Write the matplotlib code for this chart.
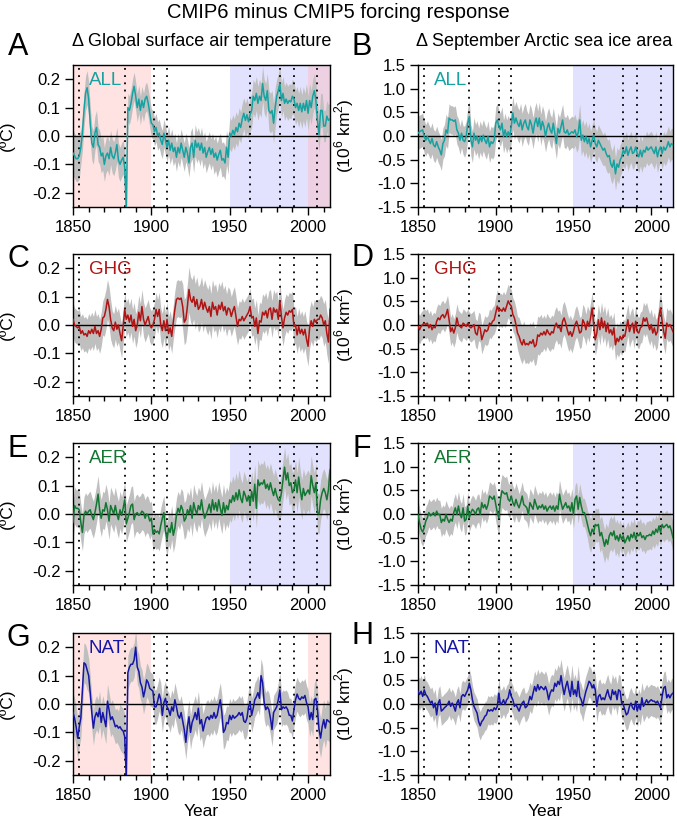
import numpy as np
import matplotlib.pyplot as plt

plt.rcParams['font.family'] = ['Liberation Sans', 'DejaVu Sans']
plt.rcParams['mathtext.fontset'] = 'custom'
plt.rcParams['mathtext.rm'] = 'Liberation Sans'
plt.rcParams['axes.unicode_minus'] = False

years = np.arange(1850, 2015)
hw_years = np.arange(1850, 2015, 5)   # band half-width read in 5-year blocks

# annual ensemble-mean differences (CMIP6 - CMIP5)
tas_all = [
    -0.06, -0.07, -0.08, -0.08, -0.07, -0.04, 0.01, 0.09, 0.15, 0.17,
    0.13, 0.045, -0.025, -0.04, 0.01, 0.03, -0.03, -0.04, -0.07, -0.06,
    -0.10, -0.07, -0.06, -0.08, -0.04, -0.07, -0.08, -0.06, -0.03, -0.085,
    -0.10, -0.085, -0.075, -0.11, -0.26, 0.10, 0.09, 0.115, 0.15, 0.175,
    0.14, 0.10, 0.13, 0.09, 0.125, 0.10, 0.13, 0.14, 0.115, 0.08,
    0.045, 0.04, 0.015, 0.03, 0.0, 0.01, -0.015, -0.03, 0.01, -0.015,
    -0.04, -0.015, -0.05, -0.025, -0.055, -0.04, -0.075, -0.04, -0.06, -0.025,
    -0.05, -0.075, -0.04, -0.06, -0.095, -0.04, -0.025, -0.075, -0.015, -0.04,
    -0.025, -0.05, -0.025, -0.06, -0.04, -0.075, -0.055, -0.04, -0.065, -0.045,
    -0.075, -0.06, -0.085, -0.065, -0.05, -0.085, -0.08, -0.095, -0.04, -0.075,
    0.01, 0.0, 0.02, 0.005, 0.03, 0.015, 0.045, 0.03, 0.06, 0.08,
    0.055, 0.075, 0.05, 0.075, 0.09, 0.14, 0.125, 0.15, 0.115, 0.14,
    0.125, 0.185, 0.14, 0.125, 0.16, 0.09, 0.08, 0.09, 0.045, 0.10,
    0.14, 0.16, 0.185, 0.125, 0.15, 0.115, 0.13, 0.115, 0.125, 0.12,
    0.14, 0.13, 0.10, 0.115, 0.09, 0.115, 0.085, 0.115, 0.09, 0.125,
    0.08, 0.125, 0.10, 0.14, 0.16, 0.125, 0.055, 0.005, 0.09, 0.09,
    0.035, 0.035, 0.07, 0.055, 0.06]
sia_all = [
    0.06, 0.09, 0.11, 0.13, -0.01, -0.09, -0.01, -0.09, -0.16, -0.05,
    -0.19, -0.23, -0.12, -0.23, -0.30, -0.40, -0.16, -0.09, 0.13, 0.06,
    0.38, 0.34, 0.34, 0.31, 0.34, 0.13, 0.06, -0.09, 0.06, -0.09,
    -0.12, -0.01, 0.27, 0.41, -0.09, -0.23, 0.06, -0.09, -0.01, -0.16,
    -0.01, -0.12, 0.02, -0.09, -0.16, -0.01, -0.23, -0.12, -0.16, -0.09,
    0.27, 0.34, 0.20, 0.13, 0.27, -0.01, 0.13, -0.01, 0.09, -0.01,
    0.20, 0.49, 0.27, 0.38, 0.27, 0.20, 0.34, 0.13, 0.27, 0.34,
    0.20, 0.13, 0.34, 0.24, 0.06, 0.27, 0.38, 0.20, 0.38, 0.13,
    0.31, 0.20, -0.01, 0.16, 0.27, 0.13, 0.06, 0.27, 0.06, -0.16,
    0.16, 0.06, 0.20, 0.34, 0.09, 0.06, 0.13, 0.02, 0.06, 0.09,
    0.06, 0.13, -0.01, 0.06, 0.34, -0.09, 0.02, -0.12, -0.01, -0.16,
    -0.05, -0.23, -0.09, 0.02, -0.16, -0.23, -0.09, -0.16, -0.23, -0.30,
    -0.26, -0.37, -0.44, -0.41, -0.59, -0.66, -0.51, -0.80, -0.59, -0.66,
    -0.51, -0.44, -0.30, -0.37, -0.23, -0.41, -0.30, -0.23, -0.37, -0.34,
    -0.23, -0.37, -0.44, -0.30, -0.44, -0.30, -0.34, -0.23, -0.30, -0.26,
    -0.23, -0.30, -0.37, -0.23, -0.44, -0.30, -0.23, -0.37, -0.23, -0.30,
    -0.23, -0.12, -0.23, -0.16, -0.19]
tas_ghg = [
    0.02, 0.0, -0.005, -0.01, -0.005, -0.03, -0.02, -0.035, -0.03, -0.04,
    -0.02, -0.03, -0.015, -0.03, -0.005, -0.03, -0.02, -0.04, -0.015, 0.025,
    0.03, 0.055, 0.09, 0.065, 0.02, -0.01, -0.02, 0.01, -0.015, 0.0,
    -0.03, -0.055, -0.005, 0.055, 0.02, 0.035, 0.01, 0.035, -0.005, 0.02,
    -0.02, 0.0, 0.045, 0.015, 0.065, 0.02, 0.0, 0.015, 0.03, 0.0,
    -0.01, 0.0, 0.02, 0.055, 0.03, 0.055, 0.0, -0.02, 0.015, -0.02,
    0.02, -0.03, -0.01, -0.04, 0.01, 0.055, 0.09, 0.095, 0.09, 0.095,
    0.065, 0.01, 0.02, 0.065, 0.125, 0.09, 0.08, 0.10, 0.065, 0.09,
    0.055, 0.065, 0.09, 0.055, 0.08, 0.06, 0.045, 0.065, 0.03, 0.08,
    0.055, 0.065, 0.035, 0.07, 0.055, 0.08, 0.05, 0.065, 0.035, 0.06,
    0.055, 0.03, 0.05, 0.065, 0.03, -0.005, 0.02, 0.015, 0.03, 0.015,
    0.025, 0.035, 0.045, 0.065, 0.025, 0.03, -0.005, 0.025, -0.03, 0.015,
    0.01, 0.045, 0.035, 0.05, 0.025, 0.055, 0.06, 0.02, 0.06, 0.045,
    0.055, 0.02, 0.085, 0.03, -0.01, 0.025, 0.045, 0.035, 0.05, 0.045,
    0.055, -0.005, 0.0, -0.035, -0.005, -0.03, -0.015, -0.035, -0.015, -0.05,
    -0.075, -0.01, 0.015, -0.005, 0.02, 0.01, 0.02, 0.02, 0.035, 0.025,
    0.0, 0.015, -0.03, -0.06, 0.055]
sia_ghg = [
    -0.03, -0.10, -0.03, 0.01, 0.04, 0.01, 0.04, -0.06, 0.01, -0.10,
    -0.03, -0.06, 0.08, 0.15, 0.11, 0.19, 0.22, 0.15, 0.22, 0.33,
    0.11, -0.14, -0.06, -0.17, -0.06, 0.15, 0.01, -0.03, -0.06, 0.04,
    0.01, -0.03, 0.04, -0.03, -0.06, -0.03, 0.01, -0.17, -0.21, -0.03,
    -0.06, -0.31, -0.21, -0.10, -0.14, -0.10, 0.04, 0.01, 0.08, 0.11,
    0.26, 0.40, 0.29, 0.33, 0.29, 0.36, 0.29, 0.40, 0.51, 0.44,
    0.40, 0.22, 0.15, 0.01, -0.17, -0.24, -0.35, -0.42, -0.31, -0.42,
    -0.39, -0.42, -0.35, -0.39, -0.31, -0.46, -0.42, -0.21, -0.24, -0.17,
    -0.21, -0.14, -0.21, -0.10, -0.17, -0.21, -0.14, -0.17, -0.03, 0.04,
    -0.06, -0.03, -0.14, 0.08, 0.15, 0.04, -0.10, -0.21, -0.14, -0.24,
    -0.14, 0.01, 0.08, -0.03, -0.17, -0.14, 0.11, 0.04, -0.10, 0.08,
    -0.03, 0.15, 0.36, 0.01, -0.31, -0.17, 0.11, -0.10, 0.15, -0.06,
    0.08, -0.14, 0.04, -0.17, -0.10, -0.21, -0.06, -0.42, -0.28, -0.35,
    -0.24, -0.31, -0.21, -0.24, -0.06, 0.11, -0.14, -0.03, 0.04, -0.17,
    0.08, -0.14, -0.17, -0.06, -0.03, 0.15, 0.08, 0.15, 0.01, -0.10,
    0.01, -0.17, -0.06, -0.21, -0.14, 0.19, 0.36, 0.08, -0.14, -0.28,
    0.04, -0.03, 0.01, -0.06, -0.14]
tas_aer = [
    -0.03, 0.03, 0.02, 0.02, 0.015, -0.03, -0.065, -0.005, 0.01, 0.0,
    0.01, 0.015, -0.005, -0.02, 0.005, 0.035, 0.07, 0.015, -0.015, 0.015,
    0.01, 0.04, 0.015, -0.025, 0.03, 0.015, 0.0, 0.03, 0.0, -0.02,
    0.015, -0.005, 0.02, 0.05, -0.035, -0.015, 0.005, 0.03, 0.035, -0.02,
    0.0, 0.005, -0.005, 0.0, 0.01, 0.005, -0.015, 0.0, -0.005, -0.025,
    -0.015, -0.07, -0.055, -0.065, -0.06, -0.07, -0.04, -0.015, 0.005, -0.06,
    -0.09, -0.05, -0.065, -0.03, -0.075, -0.05, -0.005, 0.02, 0.005, 0.03,
    0.015, -0.025, -0.015, 0.015, 0.0, 0.03, -0.015, 0.04, 0.015, 0.0,
    0.03, 0.015, 0.05, 0.01, -0.015, 0.0, 0.015, 0.035, 0.005, 0.05,
    0.015, 0.04, 0.01, 0.05, 0.02, -0.005, 0.04, 0.005, 0.03, 0.015,
    0.05, 0.04, 0.065, 0.045, 0.075, 0.05, 0.085, 0.055, 0.04, 0.08,
    0.065, 0.045, 0.065, 0.03, 0.08, 0.045, 0.105, 0.02, 0.12, 0.10,
    0.11, 0.105, 0.12, 0.09, 0.105, 0.085, 0.11, 0.085, 0.065, 0.09,
    0.065, 0.05, 0.045, 0.075, 0.12, 0.165, 0.12, 0.145, 0.10, 0.11,
    0.075, 0.085, 0.12, 0.075, 0.13, 0.085, 0.05, 0.09, 0.065, 0.075,
    0.085, 0.07, 0.135, 0.10, 0.075, 0.11, 0.005, 0.0, 0.05, 0.075,
    0.09, 0.075, 0.05, 0.085, 0.155]
sia_aer = [
    -0.01, -0.18, -0.32, -0.38, -0.29, -0.15, -0.08, 0.03, -0.04, -0.01,
    0.03, -0.04, 0.06, -0.01, -0.01, -0.18, -0.11, -0.15, -0.01, -0.11,
    -0.18, -0.11, -0.15, 0.03, 0.13, -0.01, 0.17, -0.01, -0.08, 0.13,
    -0.15, -0.11, 0.17, -0.08, 0.03, 0.10, 0.06, -0.01, 0.10, 0.13,
    -0.01, 0.24, 0.13, 0.20, 0.10, 0.20, 0.38, 0.35, 0.31, 0.38,
    0.20, 0.03, -0.08, 0.31, 0.49, 0.45, 0.42, 0.45, 0.31, 0.27,
    0.38, 0.24, 0.17, 0.31, 0.20, 0.13, 0.24, 0.38, 0.20, 0.17,
    0.13, -0.01, 0.24, 0.17, 0.10, 0.31, 0.20, 0.10, 0.17, 0.13,
    0.20, 0.10, 0.17, 0.06, 0.13, 0.17, 0.10, 0.17, 0.06, 0.17,
    0.10, 0.42, 0.24, 0.10, 0.17, 0.24, 0.13, 0.17, 0.06, 0.24,
    -0.01, 0.31, 0.38, 0.10, 0.35, 0.17, 0.03, 0.03, -0.08, -0.22,
    -0.36, -0.46, -0.32, -0.39, -0.22, -0.25, -0.22, -0.46, -0.39, -0.54,
    -0.68, -0.54, -0.64, -0.46, -0.39, -0.46, -0.36, -0.54, -0.46, -0.57,
    -0.43, -0.54, -0.46, -0.61, -0.54, -0.46, -0.57, -0.43, -0.50, -0.39,
    -0.54, -0.43, -0.46, -0.39, -0.50, -0.46, -0.54, -0.46, -0.46, -0.43,
    -0.46, -0.36, -0.43, -0.32, -0.39, -0.25, -0.39, -0.22, -0.29, -0.25,
    -0.22, -0.29, -0.25, -0.36, -0.50]
tas_nat = [
    -0.03, -0.05, -0.08, -0.12, -0.08, -0.05, 0.05, 0.145, 0.14, 0.12,
    0.10, 0.04, -0.03, -0.085, -0.045, -0.03, -0.045, -0.015, -0.065, -0.03,
    -0.055, -0.08, 0.01, -0.02, -0.055, -0.045, -0.06, -0.08, -0.075, -0.085,
    -0.08, -0.09, -0.095, -0.115, -0.26, 0.11, 0.13, 0.14, 0.14, 0.155,
    0.20, 0.13, 0.115, 0.075, 0.06, 0.025, 0.05, 0.085, 0.075, 0.055,
    0.05, 0.045, -0.01, -0.01, 0.01, 0.035, 0.015, -0.04, 0.005, 0.02,
    -0.01, -0.02, -0.04, -0.01, -0.025, 0.015, -0.01, -0.04, -0.05, -0.03,
    -0.06, -0.09, -0.135, -0.08, -0.045, -0.10, -0.065, -0.05, -0.03, -0.055,
    -0.015, -0.07, -0.055, -0.095, -0.07, -0.05, -0.045, -0.055, -0.04, -0.05,
    -0.03, -0.05, -0.04, -0.01, 0.015, -0.03, -0.10, -0.09, -0.065, -0.07,
    -0.04, -0.055, -0.04, -0.05, -0.045, -0.04, -0.03, -0.04, -0.03, -0.06,
    -0.065, -0.05, -0.01, 0.005, -0.04, -0.015, 0.015, 0.025, 0.04, 0.02,
    0.10, 0.075, 0.005, -0.02, -0.01, -0.02, -0.05, -0.09, -0.03, -0.02,
    -0.01, 0.015, 0.05, -0.02, -0.01, -0.015, -0.01, -0.02, -0.04, -0.04,
    -0.06, -0.02, 0.015, 0.035, 0.02, 0.015, 0.025, 0.02, 0.03, 0.005,
    -0.01, -0.055, -0.03, -0.055, 0.015, 0.02, -0.02, -0.09, -0.12, -0.08,
    -0.055, -0.085, -0.055, -0.06, -0.065]
sia_nat = [
    0.27, 0.20, 0.27, 0.16, 0.30, 0.20, 0.16, 0.09, 0.02, 0.06,
    -0.08, 0.02, -0.23, 0.02, 0.09, -0.15, -0.12, -0.08, -0.05, -0.01,
    0.06, -0.05, 0.02, -0.05, -0.15, 0.02, 0.09, -0.08, 0.16, 0.20,
    0.16, 0.23, 0.30, 0.44, 0.30, 0.09, -0.05, -0.12, -0.19, -0.37,
    -0.46, -0.37, -0.33, -0.26, -0.23, -0.12, -0.15, -0.12, -0.15, -0.08,
    -0.12, -0.05, 0.23, -0.01, 0.02, 0.09, -0.01, 0.09, 0.13, 0.30,
    0.16, 0.09, -0.05, -0.01, -0.08, -0.15, -0.05, 0.02, 0.06, -0.08,
    -0.05, 0.02, 0.16, 0.09, 0.23, 0.37, 0.27, 0.41, 0.30, 0.37,
    0.34, 0.30, 0.37, 0.27, 0.09, 0.23, 0.30, 0.27, 0.44, 0.37,
    0.48, 0.41, 0.60, 0.37, 0.20, 0.37, 0.48, 0.30, 0.16, 0.48,
    0.20, 0.30, 0.16, 0.48, 0.16, 0.09, -0.04, 0.13, 0.27, 0.37,
    0.48, 0.44, 0.34, 0.41, 0.30, -0.05, 0.16, 0.20, 0.09, 0.13,
    0.09, 0.20, 0.30, 0.16, 0.09, 0.30, 0.20, 0.27, 0.09, 0.30,
    0.27, 0.02, -0.01, -0.12, -0.23, -0.19, -0.05, 0.02, -0.08, -0.12,
    0.06, -0.15, -0.01, -0.12, 0.13, -0.05, 0.02, 0.09, 0.02, 0.06,
    0.09, 0.06, 0.06, 0.02, 0.06, -0.01, -0.08, 0.16, 0.34, 0.37,
    0.13, 0.20, 0.13, 0.20, 0.23]

# spread (half-width of grey band), one value per 5-year block
hw_tas_all = [0.08, 0.06, 0.06, 0.06, 0.06, 0.06, 0.06, 0.05, 0.05, 0.05, 0.05,
              0.05, 0.05, 0.05, 0.05, 0.055, 0.055, 0.055, 0.06, 0.06, 0.055, 0.055,
              0.06, 0.06, 0.06, 0.07, 0.06, 0.06, 0.06, 0.06, 0.06, 0.06, 0.055]
hw_sia_all = [0.35, 0.33, 0.33, 0.33, 0.3, 0.3, 0.33, 0.33, 0.33, 0.33, 0.35,
              0.35, 0.35, 0.35, 0.33, 0.33, 0.33, 0.33, 0.33, 0.33, 0.33, 0.33,
              0.33, 0.33, 0.35, 0.35, 0.33, 0.33, 0.33, 0.33, 0.33, 0.33, 0.33]
hw_tas_ghg = [0.06, 0.06, 0.06, 0.06, 0.07, 0.06, 0.06, 0.06, 0.06, 0.06, 0.06,
              0.06, 0.06, 0.065, 0.08, 0.08, 0.08, 0.08, 0.08, 0.075, 0.07, 0.065,
              0.065, 0.065, 0.065, 0.065, 0.065, 0.065, 0.065, 0.065, 0.07, 0.07, 0.075]
hw_sia_ghg = [0.3, 0.3, 0.3, 0.3, 0.3, 0.3, 0.3, 0.3, 0.3, 0.3, 0.35,
              0.35, 0.35, 0.4, 0.4, 0.4, 0.35, 0.35, 0.35, 0.35, 0.33, 0.33,
              0.33, 0.33, 0.33, 0.33, 0.33, 0.33, 0.33, 0.33, 0.33, 0.33, 0.33]
hw_tas_aer = [0.065, 0.065, 0.065, 0.065, 0.065, 0.065, 0.065, 0.065, 0.065, 0.065, 0.06,
              0.06, 0.06, 0.06, 0.065, 0.065, 0.065, 0.065, 0.065, 0.065, 0.07, 0.07,
              0.07, 0.07, 0.07, 0.07, 0.07, 0.07, 0.07, 0.07, 0.07, 0.07, 0.07]
hw_sia_aer = [0.3, 0.3, 0.3, 0.3, 0.3, 0.3, 0.3, 0.3, 0.3, 0.3, 0.35,
              0.35, 0.35, 0.3, 0.3, 0.3, 0.3, 0.3, 0.3, 0.3, 0.3, 0.3,
              0.35, 0.35, 0.35, 0.35, 0.3, 0.3, 0.3, 0.3, 0.3, 0.3, 0.3]
hw_tas_nat = [0.07, 0.07, 0.06, 0.06, 0.06, 0.06, 0.08, 0.06, 0.06, 0.06, 0.06,
              0.06, 0.06, 0.06, 0.06, 0.06, 0.06, 0.06, 0.06, 0.06, 0.06, 0.06,
              0.06, 0.06, 0.06, 0.06, 0.06, 0.06, 0.06, 0.06, 0.06, 0.07, 0.07]
hw_sia_nat = [0.33, 0.3, 0.3, 0.3, 0.3, 0.3, 0.3, 0.3, 0.3, 0.3, 0.3,
              0.3, 0.3, 0.3, 0.3, 0.33, 0.33, 0.33, 0.35, 0.35, 0.33, 0.33,
              0.33, 0.33, 0.33, 0.33, 0.33, 0.33, 0.33, 0.33, 0.33, 0.33, 0.33]

volcano_years = [1854, 1883, 1902, 1910, 1963, 1982, 1991, 2006]

forcings = ['ALL', 'GHG', 'AER', 'NAT']
colors = ['#17a2a2', '#b01414', '#137733', '#1616a6']
letters = [['A', 'B'], ['C', 'D'], ['E', 'F'], ['G', 'H']]
tas = [tas_all, tas_ghg, tas_aer, tas_nat]
sia = [sia_all, sia_ghg, sia_aer, sia_nat]
hw_tas = [hw_tas_all, hw_tas_ghg, hw_tas_aer, hw_tas_nat]
hw_sia = [hw_sia_all, hw_sia_ghg, hw_sia_aer, hw_sia_nat]
# (start, end, colour) of highlighted periods per panel
pink, blue = (1.0, 0.72, 0.72), (0.72, 0.72, 1.0)
spans_tas = [[(1850, 1900, pink), (1950, 2014, blue), (2000, 2014, pink)], [],
             [(1950, 2014, blue)], [(1850, 1900, pink), (2000, 2014, pink)]]
spans_sia = [[(1950, 2014, blue)], [], [(1950, 2014, blue)], []]

W, H = 677, 819
fig = plt.figure(figsize=(W / 100, H / 100), dpi=100)
tops = [65, 254, 443, 633]
axh = 142
col_x = [(73, 257), (418, 255)]


def draw_panel(ax, values, hw, spans, color, name, ylim, yticks, ylabel, labx):
    v = np.array(values)
    h = np.repeat(hw, 5)[:len(years)]
    for s, e, c in spans:
        ax.axvspan(s, e, color=c, alpha=0.4, lw=0, zorder=0)
    ax.fill_between(years, v - h, v + h, color='#bfbfbf', lw=0, zorder=1)
    for vy in volcano_years:
        ax.axvline(vy, color='black', lw=1.3, ls=(0, (1, 3)), zorder=2)
    ax.axhline(0, color='black', lw=1.0, zorder=2)
    ax.plot(years, v, color=color, lw=1.1, zorder=3)
    ax.set_xlim(1850, 2014)
    ax.set_ylim(*ylim)
    ax.set_xticks([1850, 1900, 1950, 2000])
    ax.set_xticks(np.arange(1860, 2015, 10), minor=True)
    ax.set_yticks(yticks)
    ax.set_yticklabels(['%.1f' % t for t in yticks])
    ax.tick_params(which='major', length=6, width=1, labelsize=12, pad=3)
    ax.tick_params(which='minor', length=3.5, width=1)
    ax.set_ylabel(ylabel, fontsize=12.5)
    ax.yaxis.set_label_coords(labx, 0.5)
    ax.text(0.062, 0.95, name, color=color, fontsize=13.5, transform=ax.transAxes,
            va='top', ha='left', zorder=4)
    for sp in ax.spines.values():
        sp.set_linewidth(1.0)


for i in range(4):
    for j in range(2):
        x0, w = col_x[j]
        ax = fig.add_axes([x0 / W, 1 - (tops[i] + axh) / H, w / W, axh / H])
        if j == 0:
            draw_panel(ax, tas[i], hw_tas[i], spans_tas[i], colors[i], forcings[i],
                       (-0.25, 0.25), [-0.2, -0.1, 0.0, 0.1, 0.2], '(ºC)', -0.225)
        else:
            draw_panel(ax, sia[i], hw_sia[i], spans_sia[i], colors[i], forcings[i],
                       (-1.5, 1.5), [-1.5, -1.0, -0.5, 0.0, 0.5, 1.0, 1.5],
                       '(10$^6$ km$^2$)', -0.245)
        if i == 3:
            ax.set_xlabel('Year', fontsize=12.5, labelpad=1)

# panel letters
letter_pos = [[(18, 47), (362, 47)], [(18, 259), (362, 258)],
              [(18, 449), (362, 449)], [(18, 638), (362, 636)]]
for i in range(4):
    for j in range(2):
        px, py = letter_pos[i][j]
        fig.text(px / W, 1 - py / H, letters[i][j], fontsize=22, ha='center', va='center')

fig.text(0.5, 1 - 13 / H, 'CMIP6 minus CMIP5 forcing response', fontsize=14.5,
         ha='center', va='center')
fig.text(202 / W, 1 - 42 / H, 'Δ Global surface air temperature', fontsize=13,
         ha='center', va='center')
fig.text(544 / W, 1 - 42 / H, 'Δ September Arctic sea ice area', fontsize=13,
         ha='center', va='center')

fig.savefig('out.png', dpi=100)
